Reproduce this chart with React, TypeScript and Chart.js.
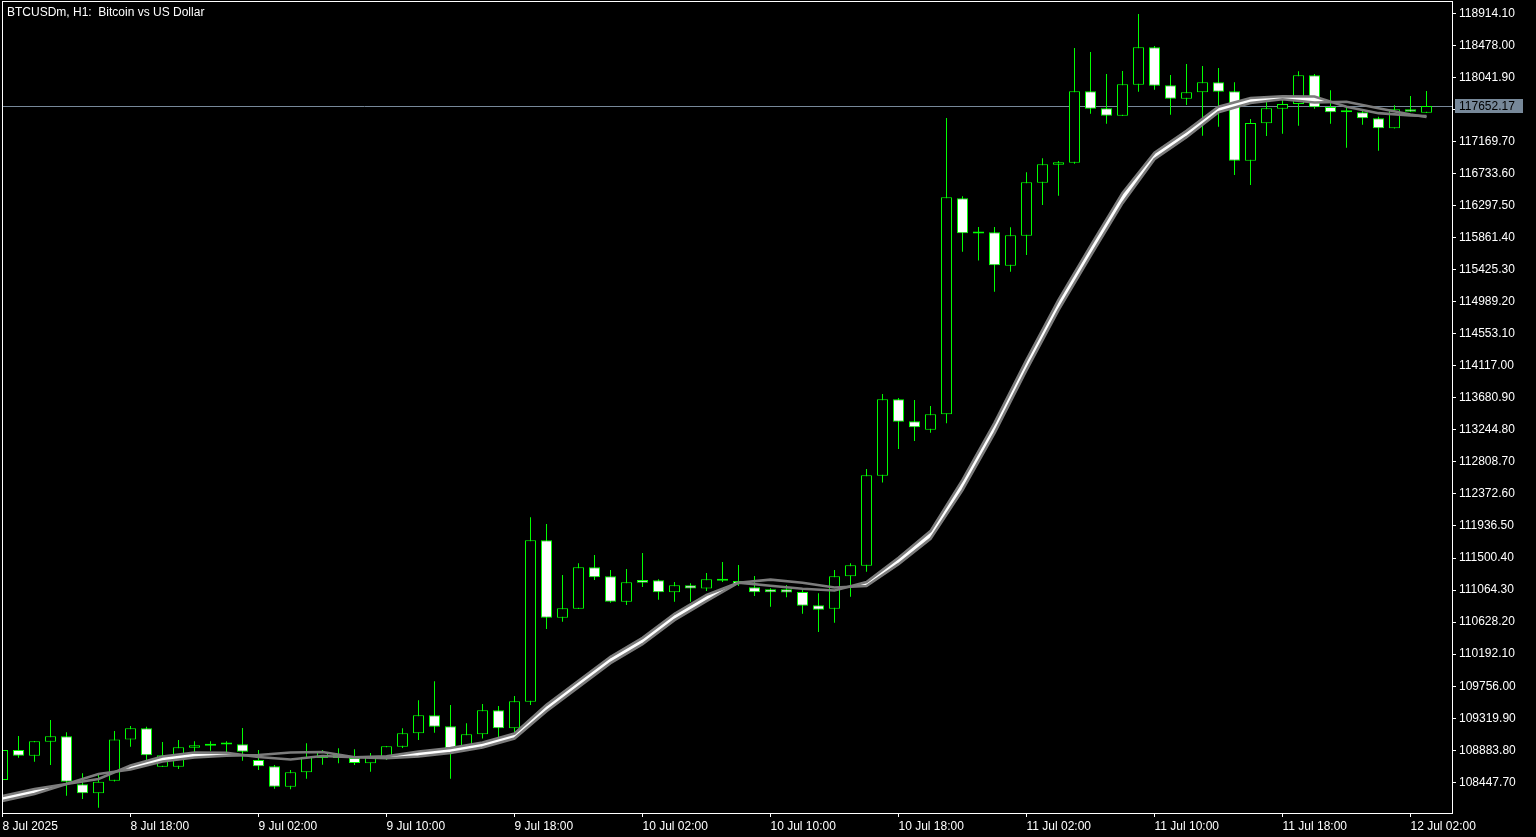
import React, { useEffect, useRef } from 'react';
import { Chart, registerables } from 'chart.js';

Chart.register(...registerables);

const chartTitle = 'BTCUSDm, H1:  Bitcoin vs US Dollar';

// H1 candles, bar 0 = 8 Jul 10:00 ... bar 89 = 12 Jul 03:00
const opens = [
  108479, 108888, 108810, 109001, 109074, 108421, 108298, 108470, 109031, 109183,
  108661, 108661, 108919, 108946, 108969, 108965, 108752, 108667, 108388, 108584,
  108779, 108820, 108779, 108707, 108775, 108933, 109115, 109360, 109210, 108911,
  109101, 109428, 109183, 109545, 111741, 110688, 110811, 111376, 111252, 110906,
  111202, 111198, 111035, 111130, 111084, 111192, 111188, 111103, 111076, 111076,
  111039, 110857, 110811, 111252, 111396, 112620, 113661, 113361, 113247, 113457,
  116396, 115924, 115934, 115479, 115887, 116609, 116854, 116881, 117852, 117621,
  117520, 117942, 118451, 117934, 117752, 117839, 117975, 117852, 116908, 117417,
  117615, 117680, 118070, 117639, 117580, 117567, 117485, 117349, 117608, 117561,
];
const highs = [
  108915, 109078, 109010, 109296, 109128, 108571, 108571, 109146, 109214, 109205,
  108997, 109023, 109006, 109006, 109006, 109187, 108888, 108683, 108615, 108979,
  108888, 108911, 108897, 108847, 108942, 109183, 109564, 109823, 109500, 109251,
  109514, 109486, 109623, 112055, 111963, 111269, 111429, 111541, 111337, 111351,
  111569, 111211, 111175, 111157, 111297, 111446, 111405, 111256, 111089, 111133,
  111093, 111021, 111337, 111429, 112712, 113733, 113678, 113651, 113569, 117489,
  116423, 116006, 116006, 116001, 116750, 116943, 116904, 118441, 118387, 118088,
  118129, 118905, 118469, 118074, 118224, 118197, 118170, 117975, 117475, 117734,
  117788, 118125, 118088, 117866, 117625, 117598, 117507, 117662, 117788, 117857,
];
const lows = [
  108452, 108783, 108728, 108683, 108266, 108221, 108102, 108460, 108933, 108752,
  108655, 108628, 108856, 108878, 108843, 108742, 108615, 108361, 108352, 108497,
  108688, 108707, 108683, 108593, 108752, 108915, 109024, 109124, 108497, 108888,
  109044, 109066, 109124, 109500, 110534, 110634, 110807, 111202, 110892, 110861,
  111106, 110933, 110906, 110906, 111052, 111174, 111120, 110983, 110838, 110966,
  110743, 110494, 110620, 110975, 111313, 112527, 112983, 113092, 113206, 113334,
  115669, 115551, 115125, 115397, 115624, 116305, 116432, 116868, 117547, 117411,
  117516, 117847, 117874, 117534, 117665, 117248, 117371, 116713, 116577, 117243,
  117275, 117384, 117615, 117411, 117084, 117398, 117044, 117346, 117571, 117557,
];
const closes = [
  108888, 108810, 109006, 109074, 108456, 108298, 108456, 109031, 109183, 108815,
  108815, 108924, 108952, 108973, 108961, 108864, 108667, 108388, 108584, 108796,
  108860, 108779, 108711, 108806, 108938, 109115, 109360, 109205, 108911, 109101,
  109428, 109183, 109550, 111741, 110688, 110816, 111376, 111239, 110906, 111170,
  111165, 111035, 111130, 111084, 111211, 111211, 111147, 111035, 111035, 111030,
  110852, 110797, 111252, 111401, 112626, 113661, 113356, 113279, 113457, 116410,
  115920, 115917, 115484, 115893, 116614, 116859, 116886, 117852, 117615, 117520,
  117948, 118451, 117929, 117752, 117839, 117975, 117847, 116908, 117421, 117621,
  117680, 118070, 117635, 117567, 117567, 117485, 117349, 117608, 117575, 117652.17,
];

// moving-average ribbon, read at these bar positions
const maBars = [
  0, 2, 4, 6, 8, 10, 12, 14, 16, 18, 20, 22, 24, 26, 28, 30, 32, 34, 36, 38, 40, 42, 44,
  46, 48, 50, 52, 54, 56, 58, 60, 62, 64, 66, 68, 70, 72, 74, 76, 78, 80, 82, 84, 86, 88, 89,
];
const maFast = [
  108261, 108357, 108425, 108493, 108677, 108799, 108854, 108849, 108792, 108758, 108806,
  108788, 108802, 108867, 108915, 108990, 109112, 109502, 109829, 110156, 110414, 110741,
  110999, 111165, 111124, 111083, 111058, 111174, 111503, 111867, 112564, 113340, 114197,
  115014, 115749, 116470, 117016, 117314, 117643, 117761, 117786, 117782, 117642, 117555,
  117523, 117516,
];
const maSlow = [
  108194, 108289, 108425, 108561, 108622, 108731, 108786, 108809, 108820, 108854, 108860,
  108788, 108775, 108799, 108847, 108922, 109044, 109416, 109743, 110070, 110328, 110655,
  110913, 111165, 111206, 111165, 111099, 111120, 111417, 111761, 112424, 113200, 114057,
  114874, 115609, 116330, 116928, 117228, 117567, 117693, 117745, 117700, 117710, 117623,
  117537, 117503,
];

const timeTickBars = [0, 8, 16, 24, 32, 40, 48, 56, 64, 72, 80, 88];
const timeLabels = [
  '8 Jul 2025', '8 Jul 18:00', '9 Jul 02:00', '9 Jul 10:00', '9 Jul 18:00', '10 Jul 02:00',
  '10 Jul 10:00', '10 Jul 18:00', '11 Jul 02:00', '11 Jul 10:00', '11 Jul 18:00', '12 Jul 02:00',
];
const priceTicks = [
  108447.7, 108883.8, 109319.9, 109756.0, 110192.1, 110628.2, 111064.3, 111500.4, 111936.5,
  112372.6, 112808.7, 113244.8, 113680.9, 114117.0, 114553.1, 114989.2, 115425.3, 115861.4,
  116297.5, 116733.6, 117169.7, 117605.8, 118041.9, 118478.0, 118914.1,
];
const priceMin = 108030.2;
const priceMax = 119067.9;
const barMin = -0.03125;
const barMax = 90.59375;

const GREEN = '#00ff00';
const MA_GRAY = '#7c7c7c';
const PRICE_LINE = '#778899';
const FONT_FAMILY = '"Liberation Sans", Arial, sans-serif';

export default function App() {
  const canvasRef = useRef<HTMLCanvasElement>(null);

  useEffect(() => {
    const canvas = canvasRef.current;
    if (!canvas) return;
    const bodies = opens.map((o, i) => ({ x: i, y: [o, closes[i]] }));
    const wicks = lows.map((l, i) => ({ x: i, y: [l, highs[i]] }));
    const bodyFill = opens.map((o, i) => (closes[i] < o ? '#ffffff' : '#000000'));
    const lastPrice = closes[closes.length - 1];

    const mtPlugin = {
      id: 'mtDecor',
      beforeDatasetsDraw(chart: any) {
        const { ctx, chartArea, scales } = chart;
        const y = Math.round(scales.y.getPixelForValue(lastPrice)) + 0.5;
        ctx.save();
        ctx.strokeStyle = PRICE_LINE;
        ctx.lineWidth = 1;
        ctx.beginPath();
        ctx.moveTo(chartArea.left, y);
        ctx.lineTo(chartArea.right, y);
        ctx.stroke();
        ctx.restore();
      },
      afterDraw(chart: any) {
        const { ctx, chartArea, scales } = chart;
        ctx.save();
        ctx.strokeStyle = '#ffffff';
        ctx.lineWidth = 1;
        ctx.strokeRect(chartArea.left + 0.5, chartArea.top - 0.5, chartArea.right - chartArea.left, chartArea.bottom - chartArea.top + 1);
        ctx.fillStyle = '#ffffff';
        ctx.font = `12px ${FONT_FAMILY}`;
        ctx.textBaseline = 'alphabetic';
        ctx.textAlign = 'left';
        ctx.fillText(chartTitle, 7, 16);
        const py = Math.round(scales.y.getPixelForValue(lastPrice));
        ctx.fillStyle = PRICE_LINE;
        ctx.fillRect(chartArea.right + 3, py - 7, 68, 14);
        ctx.fillStyle = '#000000';
        ctx.textBaseline = 'middle';
        ctx.fillText(lastPrice.toFixed(2), chartArea.right + 7, py + 0.5);
        ctx.restore();
      },
    };

    const chart = new Chart(canvas, {
      type: 'bar',
      data: {
        datasets: [
          {
            type: 'bar',
            label: 'wicks',
            data: wicks as any,
            backgroundColor: GREEN,
            borderWidth: 0,
            barThickness: 1,
            grouped: false,
            inflateAmount: 0,
            order: 2,
          } as any,
          {
            type: 'bar',
            label: 'bodies',
            data: bodies as any,
            backgroundColor: bodyFill,
            borderColor: GREEN,
            borderWidth: 1,
            borderSkipped: false,
            barThickness: 11,
            grouped: false,
            inflateAmount: 0,
            minBarLength: 2,
            order: 1,
          } as any,
          {
            type: 'line',
            label: 'MA slow',
            data: maBars.map((b, i) => ({ x: b, y: maSlow[i] })),
            borderColor: MA_GRAY,
            borderWidth: 2.6,
            pointRadius: 0,
            fill: false,
            tension: 0,
            order: 0,
          } as any,
          {
            type: 'line',
            label: 'MA fast',
            data: maBars.map((b, i) => ({ x: b, y: maFast[i] })),
            borderColor: MA_GRAY,
            borderWidth: 2.6,
            pointRadius: 0,
            fill: { target: '-1', above: '#ffffff', below: 'rgba(0,0,0,0)' },
            tension: 0,
            order: 0,
          } as any,
        ],
      },
      options: {
        animation: false,
        responsive: false,
        maintainAspectRatio: false,
        layout: { padding: { left: 2, top: 2, right: 0, bottom: 0 } },
        plugins: {
          legend: { display: false },
          tooltip: { enabled: false },
          title: { display: false },
        },
        scales: {
          x: {
            type: 'linear',
            position: 'bottom',
            min: barMin,
            max: barMax,
            offset: false,
            afterBuildTicks: (s: any) => {
              s.ticks = timeTickBars.map((v) => ({ value: v }));
            },
            afterFit: (s: any) => {
              s.height = 24;
              s.paddingLeft = 0;
              s.paddingRight = 0;
            },
            ticks: {
              autoSkip: false,
              maxRotation: 0,
              minRotation: 0,
              align: 'start',
              padding: 2,
              color: '#ffffff',
              font: { family: FONT_FAMILY, size: 12 },
              callback: (_v: any, i: number) => timeLabels[i],
            },
            grid: {
              display: true,
              offset: false,
              drawOnChartArea: false,
              drawTicks: true,
              tickLength: 4,
              color: '#ffffff',
              lineWidth: 1,
            },
            border: { display: true, color: '#ffffff', width: 1 },
          } as any,
          y: {
            type: 'linear',
            position: 'right',
            min: priceMin,
            max: priceMax,
            afterBuildTicks: (s: any) => {
              s.ticks = priceTicks.map((v) => ({ value: v }));
            },
            afterFit: (s: any) => {
              s.width = 84;
              s.paddingTop = 0;
              s.paddingBottom = 0;
            },
            ticks: {
              autoSkip: false,
              padding: 3,
              color: '#ffffff',
              font: { family: FONT_FAMILY, size: 12 },
              callback: (v: any) => Number(v).toFixed(2),
            },
            grid: {
              display: true,
              drawOnChartArea: false,
              drawTicks: true,
              tickLength: 4,
              color: '#ffffff',
              lineWidth: 1,
            },
            border: { display: true, color: '#ffffff', width: 1 },
          } as any,
        },
      },
      plugins: [mtPlugin],
    });
    return () => chart.destroy();
  }, []);

  return (
    <div style={{ position: 'fixed', left: 0, top: 0, width: 1536, height: 837, background: '#000000' }}>
      <canvas ref={canvasRef} width={1536} height={837} style={{ display: 'block', width: 1536, height: 837 }} />
    </div>
  );
}
